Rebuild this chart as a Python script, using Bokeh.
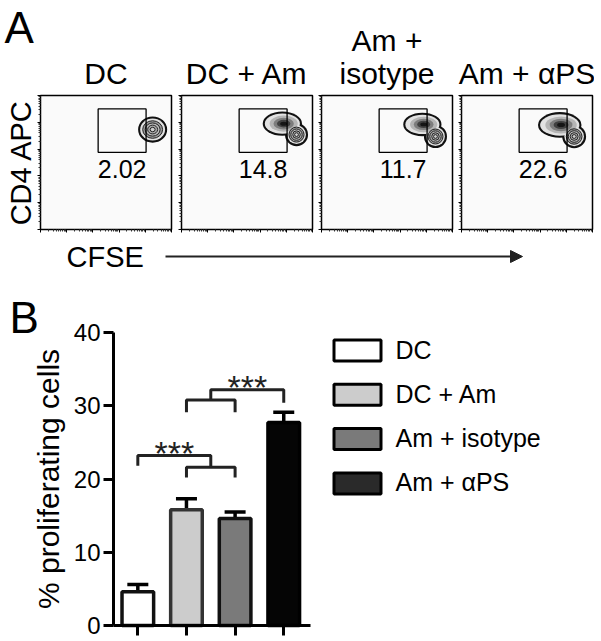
import math
from bokeh.plotting import figure
from bokeh.layouts import column, row
from bokeh.models import (Range1d, FixedTicker, Arrow, NormalHead, ColumnDataSource,
                          Whisker, TeeHead)
from bokeh.embed import file_html
from bokeh.resources import INLINE
from bokeh.core.properties import value

FONT = "Liberation Sans"

# ---------------- Panel A data (flow cytometry, log decades) ----------------
title_top = ["", "", "Am +", ""]
title_bottom = ["DC", "DC + Am", "isotype", "Am + αPS"]
gate_percent = ["2.02", "14.8", "11.7", "22.6"]
gate_x = [2.2, 4.03]
gate_y = [2.88, 4.5]
parent_x = [4.28, 4.39, 4.35, 4.30]
parent_y = [3.73, 3.54, 3.47, 3.47]
parent_w = [0.95, 0.72, 0.72, 0.75]
parent_h = [0.82, 0.70, 0.70, 0.72]
divided_x = [None, 3.85, 3.85, 3.75]
divided_y = [None, 3.95, 3.92, 3.90]
divided_w = [None, 1.34, 1.30, 1.50]
divided_h = [None, 0.75, 0.72, 0.80]

# ---------------- Panel B data ----------------
groups = ["DC", "DC + Am", "Am + isotype", "Am + αPS"]
means = [4.6, 15.8, 14.6, 27.7]
sems = [1.0, 1.5, 0.9, 1.4]
y_ticks = [0, 10, 20, 30, 40]
# significance brackets: single group vs pair of groups
sig_single = [1, 4]
sig_pair = [(2, 3), (2, 3)]
sig_main_y = [23.2, 32.2]
sig_single_drop = [21.8, 30.4]
sig_pair_y = [21.6, 30.8]
sig_pair_drop = [20.2, 29.1]
sig_star_y = [23.6, 32.6]
sig_text = ["***", "***"]

bar_fill = ["#ffffff", "#cccccc", "#7a7a7a", "#050505"]
bar_line = ["#111111", "#333333", "#111111", "#000000"]
legend_fill = ["#ffffff", "#cccccc", "#7a7a7a", "#2a2a2a"]


def bare(p):
    p.outline_line_color = None
    p.background_fill_color = "white"
    p.border_fill_color = "white"
    return p


# ---------------- Panel A: header with panel letter and sample titles ----------------
frame_left = [40, 181, 321, 461]
FW = 131
ph = bare(figure(width=594, height=93, frame_width=594, frame_height=93, min_border=0,
                 x_range=Range1d(0, 594), y_range=Range1d(93, 0), x_axis_type=None,
                 y_axis_type=None, title=None, toolbar_location=None, output_backend="svg"))
ph.text(x=[4], y=[27], text=["A"], text_font=value(FONT), text_font_size="44px",
        text_color="black", text_baseline="middle")
centers = [fl + FW / 2 for fl in frame_left]
ph.text(x=centers, y=[73] * 4, text=title_bottom, text_align="center",
        text_baseline="middle", text_font=value(FONT), text_font_size="30px",
        text_color="black")
tops = [(c, t) for c, t in zip(centers, title_top) if t]
ph.text(x=[c for c, _ in tops], y=[40] * len(tops), text=[t for _, t in tops],
        text_align="center", text_baseline="middle", text_font=value(FONT),
        text_font_size="30px", text_color="black")

# ---------------- Panel A: flow plots ----------------
minor = [d + math.log10(k) for d in range(5) for k in range(2, 10)]
left_b = [40, 4, 4, 4]
right_b = [6, 5, 5, 2]
flow_figs = []
for i in range(4):
    p = figure(width=left_b[i] + FW + right_b[i], height=2 + 134 + 5, frame_width=FW,
               frame_height=134, min_border_left=left_b[i], min_border_right=right_b[i],
               min_border_top=2, min_border_bottom=5,
               x_range=Range1d(0, 5), y_range=Range1d(0, 5), title=None,
               toolbar_location=None, output_backend="svg")
    p.grid.visible = False
    p.outline_line_color = "black"
    p.outline_line_width = 1.5
    p.background_fill_color = "#fafafa"
    p.border_fill_color = "white"
    for ax in (p.xaxis[0], p.yaxis[0]):
        ax.ticker = FixedTicker(ticks=[0, 1, 2, 3, 4, 5], minor_ticks=minor)
        ax.axis_line_color = None
        ax.major_tick_in = 0
        ax.major_tick_out = 3
        ax.minor_tick_in = 0
        ax.minor_tick_out = 2
        ax.major_tick_line_color = "black"
        ax.minor_tick_line_color = "#333333"
        ax.major_label_text_font_size = "1px"
        ax.major_label_text_color = None
        ax.major_label_standoff = 0
    if i == 0:
        p.yaxis.axis_label = "CD4 APC"
        p.yaxis.axis_label_text_font = FONT
        p.yaxis.axis_label_text_font_size = "29px"
        p.yaxis.axis_label_text_font_style = "normal"
        p.yaxis.axis_label_text_color = "black"
        p.yaxis.axis_label_standoff = 1

    xs = [parent_x[i]] + ([divided_x[i]] if divided_x[i] is not None else [])
    ys = [parent_y[i]] + ([divided_y[i]] if divided_y[i] is not None else [])
    ws = [parent_w[i]] + ([divided_w[i]] if divided_w[i] is not None else [])
    hs = [parent_h[i]] + ([divided_h[i]] if divided_h[i] is not None else [])
    p.ellipse(x=xs, y=ys, width=[w + 0.16 for w in ws], height=[h + 0.16 for h in hs],
              fill_color="#111111", line_color=None)
    p.ellipse(x=xs, y=ys, width=ws, height=hs, fill_color="#e2e2e2", line_color=None)
    if divided_x[i] is not None:
        for s, c in zip([0.8, 0.58, 0.38, 0.2], ["#b5b5b5", "#7d7d7d", "#404040", "#151515"]):
            p.ellipse(x=[divided_x[i] + 0.05], y=[divided_y[i]], width=[divided_w[i] * s],
                      height=[divided_h[i] * s], fill_color=c, line_color=None)
    for s, c in zip([0.8, 0.6, 0.4, 0.2], ["#9a9a9a", "#bdbdbd", "#a8a8a8", "#d0d0d0"]):
        p.ellipse(x=[parent_x[i]], y=[parent_y[i]], width=[parent_w[i] * s],
                  height=[parent_h[i] * s], fill_color=c, line_color="#222222", line_width=1)
    p.quad(left=[gate_x[0]], right=[gate_x[1]], bottom=[gate_y[0]], top=[gate_y[1]],
           fill_alpha=0, line_color="black", line_width=1.3)
    p.text(x=[(gate_x[0] + gate_x[1]) / 2], y=[2.26], text=[gate_percent[i]],
           text_align="center", text_baseline="middle", text_font=value(FONT),
           text_font_size="25px", text_color="black")
    flow_figs.append(p)

# ---------------- Panel A: CFSE arrow ----------------
pc = bare(figure(width=594, height=38, frame_width=594, frame_height=38, min_border=0,
                 x_range=Range1d(0, 594), y_range=Range1d(272, 234), x_axis_type=None,
                 y_axis_type=None, title=None, toolbar_location=None, output_backend="svg"))
pc.text(x=[66], y=[256], text=["CFSE"], text_font=value(FONT), text_font_size="29px",
        text_color="black", text_baseline="middle")
pc.add_layout(Arrow(x_start=165, y_start=256, x_end=522, y_end=256, line_width=2,
                    line_color="#222222",
                    end=NormalHead(size=12, fill_color="#222222", line_color="#222222")))

# ---------------- Panel B: bar chart ----------------
PW, PH = 312, 368
ax_left, ax_right = 113, 310        # x pixels of 0.5 and 4.55
ax_top, ax_bottom = 60, 353         # y pixels (from top) of 40 and 0
xs_per = (4.55 - 0.5) / (ax_right - ax_left)
ys_per = 40.0 / (ax_bottom - ax_top)
xr = Range1d(0.5 - ax_left * xs_per, 4.55 + (PW - ax_right) * xs_per)
yr = Range1d(0 - (PH - ax_bottom) * ys_per, 40 + ax_top * ys_per)

x_pos = list(range(1, len(groups) + 1))
src = ColumnDataSource(dict(x=x_pos, top=means, err=[m + s for m, s in zip(means, sems)],
                            fill=bar_fill, line=bar_line))
pb = bare(figure(width=PW, height=PH, frame_width=PW, frame_height=PH, min_border=0,
                 x_range=xr, y_range=yr, title=None, toolbar_location=None,
                 output_backend="svg"))
pb.grid.visible = False
pb.vbar(x="x", top="top", width=0.65, fill_color="fill", line_color="line",
        line_width=3.5, source=src)
pb.add_layout(Whisker(source=src, base="x", upper="err", lower="top",
                      upper_head=TeeHead(size=21, line_width=3.5, line_color="black"),
                      lower_head=None, line_width=3.5, line_color="black"))

bx, by = [], []
for k in range(len(sig_single)):
    a, b = sig_pair[k]
    mid = (a + b) / 2
    bx.append([a, a, b, b])
    by.append([sig_pair_drop[k], sig_pair_y[k], sig_pair_y[k], sig_pair_drop[k]])
    bx.append([sig_single[k], sig_single[k], mid, mid])
    by.append([sig_single_drop[k], sig_main_y[k], sig_main_y[k], sig_pair_y[k]])
pb.multi_line(xs=bx, ys=by, line_color="#222222", line_width=3)
star_x = [(sig_single[k] + sum(sig_pair[k]) / 2) / 2 for k in range(len(sig_single))]
pb.text(x=star_x, y=sig_star_y, text=sig_text, text_align="center",
        text_baseline="middle", text_font=value(FONT), text_font_size="34px",
        text_color="#222222")

pb.xaxis.fixed_location = 0
pb.xaxis.bounds = (0.5, 4.55)
pb.xaxis.ticker = FixedTicker(ticks=x_pos)
pb.xaxis.major_label_text_font_size = "1px"
pb.xaxis.major_label_text_color = None
pb.xaxis.major_tick_in = 0
pb.xaxis.major_tick_out = 10
pb.yaxis.fixed_location = 0.5
pb.yaxis.bounds = (0, 40)
pb.yaxis.ticker = FixedTicker(ticks=y_ticks)
pb.yaxis.major_tick_in = 0
pb.yaxis.major_tick_out = 10
pb.yaxis.major_label_text_font = FONT
pb.yaxis.major_label_text_font_size = "24px"
pb.yaxis.major_label_text_color = "black"
pb.yaxis.major_label_standoff = 3
pb.yaxis.axis_label = "% proliferating cells"
pb.yaxis.axis_label_text_font = FONT
pb.yaxis.axis_label_text_font_size = "30px"
pb.yaxis.axis_label_text_font_style = "normal"
pb.yaxis.axis_label_text_color = "black"
pb.yaxis.axis_label_standoff = 6
for ax in (pb.xaxis[0], pb.yaxis[0]):
    ax.axis_line_width = 3
    ax.axis_line_color = "black"
    ax.major_tick_line_width = 3
    ax.major_tick_line_color = "black"
    ax.minor_tick_line_color = None
pb.text(x=[xr.start + 9 * xs_per], y=[40 + (ax_top - 44.5) * ys_per], text=["B"],
        text_font=value(FONT), text_font_size="44px", text_color="black",
        text_baseline="middle")

# ---------------- Panel B: legend ----------------
LW = 286
pl = bare(figure(width=LW, height=PH, frame_width=LW, frame_height=PH, min_border=0,
                 x_range=Range1d(312, 312 + LW), y_range=Range1d(272 + PH, 272),
                 x_axis_type=None, y_axis_type=None, title=None, toolbar_location=None,
                 output_backend="svg"))
row_top = [338 + 44.3 * k for k in range(len(groups))]
pl.quad(left=[333.5] * len(groups), right=[380.5] * len(groups),
        top=[t + 1.5 for t in row_top], bottom=[t + 22.5 for t in row_top],
        fill_color=legend_fill, line_color="black", line_width=3)
pl.text(x=[395] * len(groups), y=[t + 11 for t in row_top], text=groups,
        text_baseline="middle", text_font=value(FONT), text_font_size="25px",
        text_color="black")

layout = column(ph, row(*flow_figs), pc, row(pb, pl))
open("out.html", "w").write(file_html(layout, INLINE))
